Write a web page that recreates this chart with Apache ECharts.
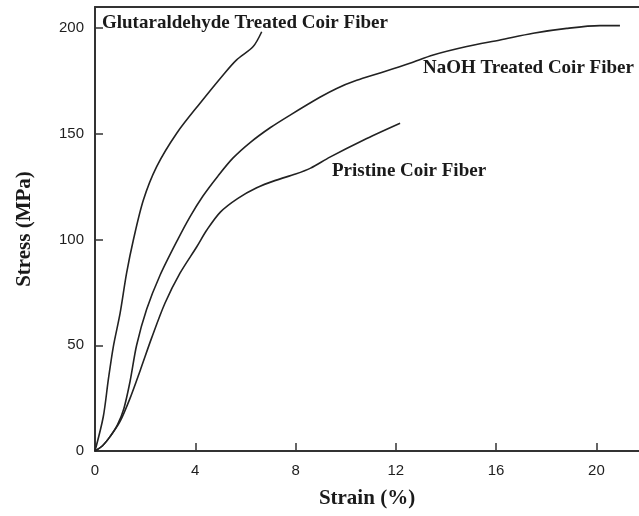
<!DOCTYPE html>
<html>
<head>
<meta charset="utf-8">
<script src="https://cdn.jsdelivr.net/npm/echarts@6/dist/echarts.min.js"></script>
<style>
  html, body { margin: 0; padding: 0; background: #fff; }
  #main { width: 639px; height: 516px; }
</style>
</head>
<body>
<div id="main"></div>
<script>
// strain (%) / stress (MPa)
var glutStrain = [0, 0.33, 0.53, 0.73, 1.0, 1.26, 1.53, 1.93, 2.46, 3.26, 4.19, 5.12, 5.65, 6.31, 6.65];
var glutStress = [0, 16.2, 33.6, 49.3, 65.1, 84.1, 99.8, 118.7, 134.5, 150.3, 164.5, 178, 185, 191.3, 198.3];

var naohStrain = [0, 0.3, 0.6, 0.9, 1.15, 1.4, 1.66, 2.06, 2.59, 3.3, 3.8, 4.3, 4.9, 5.5, 6.2, 7.0, 7.8, 8.97, 9.64, 10.44, 11.37, 12.56, 13.49, 14.83, 16.16, 17.48, 18.82, 20.14, 20.94];
var naohStress = [0, 2.5, 6.8, 12.5, 20, 33, 50, 67, 83, 100, 111, 120.5, 130, 138.5, 146, 153, 159, 167.3, 171.5, 175.3, 178.8, 183.4, 187.3, 191.3, 194.4, 197.6, 199.9, 201.2, 201.2];

var pristStrain = [0, 0.3, 0.6, 1.0, 1.4, 1.8, 2.26, 2.79, 3.39, 4.06, 4.46, 5.0, 5.7, 6.45, 7.2, 8.0, 8.6, 9.37, 10.7, 12.17];
var pristStress = [0, 2.5, 6.8, 14, 25, 38, 53.5, 69.9, 84.1, 96.6, 104.5, 113, 119.5, 124.5, 128, 131, 133.8, 139, 147, 155];

var xTicks = [0, 4, 8, 12, 16, 20];
var yTicks = [0, 50, 100, 150, 200];

var curveNames = ['Glutaraldehyde Treated Coir Fiber', 'NaOH Treated Coir Fiber', 'Pristine Coir Fiber'];

function zip(xs, ys) {
    var out = [];
    for (var i = 0; i < xs.length; i++) out.push([xs[i], ys[i]]);
    return out;
}

var myChart = echarts.init(document.getElementById('main'));

var tickLabel = {
    color: '#1e1e1e',
    fontFamily: '"Liberation Sans", Arial, sans-serif',
    fontSize: 15,
    showMaxLabel: false
};
var titleFont = {
    fontFamily: '"Liberation Serif", "Times New Roman", serif',
    fontWeight: 'bold',
    fontSize: 21,
    color: '#1a1a1a'
};
var axisLine = { show: true, onZero: false, lineStyle: { color: '#333', width: 2 } };

function lineSeries(name, xs, ys) {
    return {
        name: name,
        type: 'line',
        data: zip(xs, ys),
        smooth: 0.3,
        showSymbol: false,
        symbol: 'none',
        lineStyle: { color: '#222', width: 1.6 },
        z: 3
    };
}

var option = {
    backgroundColor: '#fff',
    animation: false,
    grid: { left: 95, right: 0, top: 7, bottom: 65 },
    xAxis: [{
        type: 'value',
        min: 0,
        max: 21.7,
        interval: 4,
        name: 'Strain (%)',
        nameLocation: 'middle',
        nameGap: 37,
        nameTextStyle: titleFont,
        axisLine: axisLine,
        axisTick: { show: true, inside: true, length: 8, lineStyle: { color: '#333', width: 1.5 } },
        axisLabel: Object.assign({ margin: 12, formatter: function (v) { return xTicks.indexOf(v) >= 0 ? String(v) : ''; } }, tickLabel),
        splitLine: { show: false }
    }, {
        // top frame line
        type: 'value',
        position: 'top',
        min: 0,
        max: 21.7,
        axisLine: axisLine,
        axisTick: { show: false },
        axisLabel: { show: false },
        splitLine: { show: false }
    }],
    yAxis: {
        type: 'value',
        min: 0,
        max: 210,
        interval: 50,
        name: 'Stress (MPa)',
        nameLocation: 'middle',
        nameGap: 60,
        nameTextStyle: titleFont,
        axisLine: axisLine,
        axisTick: { show: true, inside: true, length: 8, lineStyle: { color: '#333', width: 1.5 } },
        axisLabel: Object.assign({ margin: 11, formatter: function (v) { return yTicks.indexOf(v) >= 0 ? String(v) : ''; } }, tickLabel),
        splitLine: { show: false }
    },
    series: [
        lineSeries(curveNames[0], glutStrain, glutStress),
        lineSeries(curveNames[1], naohStrain, naohStress),
        lineSeries(curveNames[2], pristStrain, pristStress)
    ],
    graphic: [
        { type: 'text', x: 102, y: 23, z: 10, style: { text: curveNames[0], font: 'bold 19px "Liberation Serif", serif', fill: '#1a1a1a', verticalAlign: 'middle' } },
        { type: 'text', x: 423, y: 68, z: 10, style: { text: curveNames[1], font: 'bold 19px "Liberation Serif", serif', fill: '#1a1a1a', verticalAlign: 'middle' } },
        { type: 'text', x: 332, y: 171, z: 10, style: { text: curveNames[2], font: 'bold 19px "Liberation Serif", serif', fill: '#1a1a1a', verticalAlign: 'middle' } }
    ]
};
myChart.setOption(option);
</script>
</body>
</html>
